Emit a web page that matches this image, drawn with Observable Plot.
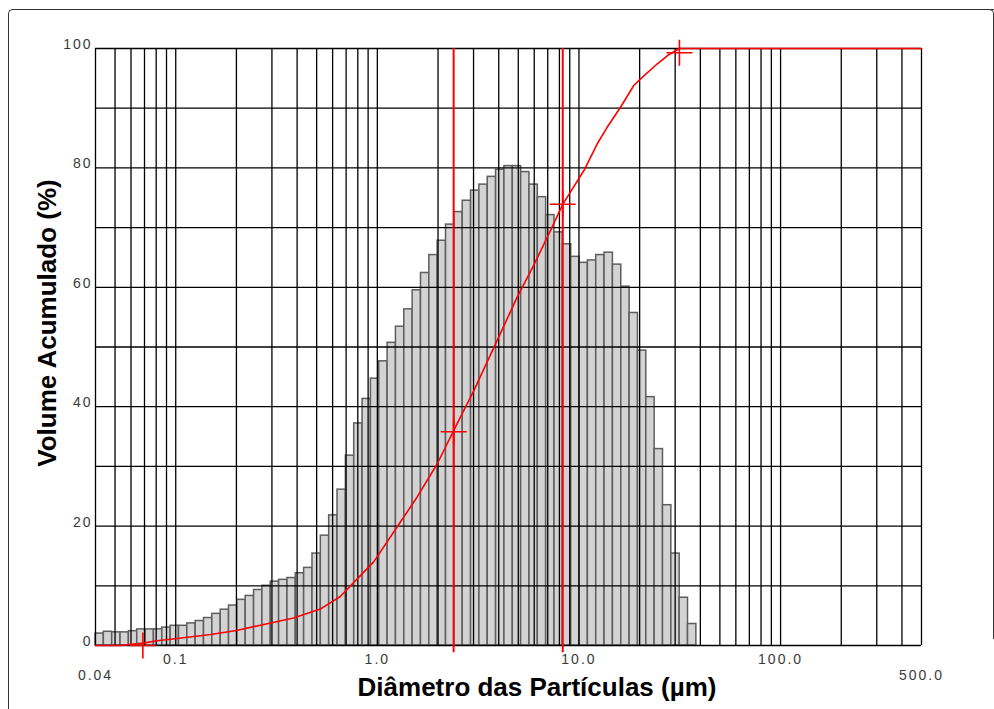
<!DOCTYPE html>
<html>
<head>
<meta charset="utf-8">
<script src="https://cdn.jsdelivr.net/npm/d3@7"></script>
<script src="https://cdn.jsdelivr.net/npm/@observablehq/plot@0.6"></script>
<style>
  html, body { margin: 0; padding: 0; background: #fff; overflow: hidden; }
  #wrap { position: relative; width: 994px; height: 709px; }
  #chart { position: absolute; left: 0; top: 0; }
  .frame-lt { position: absolute; left: 8px; top: 9px; width: 990px; height: 720px;
    border-left: 1.6px solid #333; border-top: 1.6px solid #333; border-top-left-radius: 5px; box-sizing: border-box; }
  .frame-r { position: absolute; left: 989px; top: 9px; width: 5px; height: 630px;
    border-right: 1.6px solid #333; border-top: 1.6px solid #333; border-top-right-radius: 5px; box-sizing: border-box; }
  .title { position: absolute; font-family: "Liberation Sans", Arial, sans-serif; font-weight: bold;
    font-size: 26px; line-height: 1; white-space: nowrap; color: #000; }
</style>
</head>
<body>
<div id="wrap">
  <div id="chart"></div>
  <div class="frame-lt"></div>
  <div class="frame-r"></div>
  <div class="title" id="ytitle" style="left:47px; top:323px; transform: translate(-50%,-50%) rotate(-90deg);">Volume Acumulado (%)</div>
  <div class="title" id="xtitle" style="left:537px; top:687px; transform: translate(-50%,-50%);">Diâmetro das Partículas (µm)</div>
</div>
<script>
// Histogram bin edges (µm)
const binEdges = [0.04, 0.044, 0.0484, 0.05324, 0.05856, 0.06442, 0.07086, 0.07795, 0.08574, 0.09432,
  0.10375, 0.11412, 0.12554, 0.13809, 0.1519, 0.16709, 0.1838, 0.20218, 0.2224, 0.24464,
  0.2691, 0.29601, 0.32561, 0.35817, 0.39399, 0.43339, 0.47673, 0.5244, 0.57684, 0.63452,
  0.69797, 0.76777, 0.84455, 0.929, 1.0219, 1.1241, 1.2365, 1.3602, 1.4962, 1.6458,
  1.8104, 1.9914, 2.1906, 2.4096, 2.6506, 2.9157, 3.2072, 3.528, 3.8808, 4.2688,
  4.6957, 5.1653, 5.6818, 6.25, 6.875, 7.5625, 8.3187, 9.1506, 10.066, 11.072,
  12.179, 13.397, 14.737, 16.211, 17.832, 19.615, 21.577, 23.734, 26.108, 28.719,
  31.59, 34.75, 38.22];
// Histogram bar heights
const barHeights = [2.0, 2.3, 2.2, 2.2, 2.4, 2.7, 2.7, 2.7, 3.0, 3.3,
  3.3, 3.7, 4.1, 4.6, 5.3, 6.0, 6.7, 7.65, 8.3, 9.3,
  10.0, 10.7, 11.0, 11.3, 12.1, 13.0, 15.4, 18.4, 21.8, 26.1,
  31.8, 37.2, 41.3, 44.7, 47.6, 50.7, 53.4, 56.3, 59.5, 62.4,
  65.4, 67.8, 70.5, 72.6, 74.5, 76.2, 77.2, 78.5, 79.7, 80.3,
  80.3, 79.3, 77.2, 75.1, 72.1, 69.2, 67.2, 65.1, 64.1, 64.5,
  65.4, 65.8, 63.8, 60.1, 55.7, 49.4, 41.6, 32.9, 23.5, 15.4,
  8.0, 3.6];
// Cumulative volume curve
const cumX = [0.04, 0.053, 0.0687, 0.081, 0.109, 0.149, 0.20, 0.263, 0.384, 0.521,
  0.655, 0.824, 0.959, 1.25, 1.57, 1.98, 2.39, 3.01, 3.93, 4.93,
  5.97, 7.22, 8.31, 10.6, 12.3, 13.8, 16.1, 18.7, 20.2, 24.4,
  28.0, 31.5, 500];
const cumY = [0, 0, 0.4, 0.8, 1.3, 1.85, 2.5, 3.4, 4.6, 6.1,
  8.2, 11.7, 14.0, 19.8, 24.8, 30.4, 36.0, 42.7, 51.1, 58.3,
  63.7, 69.5, 73.9, 79.6, 84.0, 86.8, 90.2, 93.8, 94.9, 97.4,
  99.0, 100, 100];
// Cross markers on the curve
const markerX = [0.0687, 2.39, 8.31, 31.5];
const markerY = [0, 35.8, 73.9, 99.3];
// Vertical reference lines
const refLineX = [2.39, 8.31];
// Grid and ticks
const gridX = [0.05, 0.06, 0.07, 0.08, 0.09, 0.1, 0.2, 0.3, 0.4, 0.5, 0.6, 0.7, 0.8, 0.9,
  1, 2, 3, 4, 5, 6, 7, 8, 9, 10, 20, 30, 40, 50, 60, 70, 80, 90, 100, 200, 300, 400];
const gridY = [10, 20, 30, 40, 50, 60, 70, 80, 90];
const yTicks = [0, 20, 40, 60, 80, 100];
const xTicks = [0.1, 1, 10, 100];
const xTickLabels = ["0.1", "1.0", "10.0", "100.0"];
const xEndTicks = [0.04, 500];
const xEndTickLabels = ["0.04", "500.0"];

const bars = barHeights.map((h, i) => ({x1: binEdges[i], x2: binEdges[i + 1], h}));
const cum = cumX.map((x, i) => ({x, y: cumY[i]}));
const markers = markerX.map((x, i) => ({x, y: markerY[i]}));
const endLabels = xEndTicks.map((x, i) => ({x, label: xEndTickLabels[i]}));

const crossSymbol = {
  draw(context, size) {
    const r = Math.sqrt(size / Math.PI);
    context.moveTo(-r, 0); context.lineTo(r, 0);
    context.moveTo(0, -r); context.lineTo(0, r);
  }
};

const gridStyle = {stroke: "#000", strokeWidth: 1.3, strokeOpacity: 1};

const chart = Plot.plot({
  width: 994,
  height: 709,
  marginLeft: 95,
  marginRight: 73,
  marginTop: 48,
  marginBottom: 64,
  style: {fontFamily: "'Liberation Sans', Arial, sans-serif", fontSize: "14px", letterSpacing: "2px", background: "transparent"},
  x: {type: "log", domain: [0.04, 500], axis: null},
  y: {domain: [0, 100], axis: null},
  marks: [
    Plot.rect(bars, {x1: "x1", x2: "x2", y1: 0, y2: "h", fill: "#d3d3d3", stroke: "#5e5e5e", strokeWidth: 1.5}),
    Plot.ruleX(gridX, {...gridStyle, y1: 0, y2: 100}),
    Plot.ruleY(gridY, {...gridStyle, x1: 0.04, x2: 500}),
    Plot.ruleX(xEndTicks, {...gridStyle, y1: 0, y2: 100}),
    Plot.ruleY([0, 100], {...gridStyle, x1: 0.04, x2: 500}),
    Plot.ruleX(refLineX, {y1: -1.2, y2: 100, stroke: "#ff0000", strokeWidth: 2}),
    Plot.line(cum, {x: "x", y: "y", stroke: "#ff0000", strokeWidth: 1.6}),
    Plot.dot(markers, {x: "x", y: "y", symbol: crossSymbol, r: 13, fill: "none", stroke: "#ff0000", strokeWidth: 1.6}),
    Plot.axisY({ticks: yTicks, tickSize: 0, tickPadding: 3, dy: -4, fill: "#3a3a3a", label: null}),
    Plot.axisX({ticks: xTicks, tickSize: 0, tickPadding: 9, fill: "#3a3a3a", label: null,
      tickFormat: d => xTickLabels[xTicks.indexOf(d)]}),
    Plot.text(endLabels, {x: "x", frameAnchor: "bottom", dy: 30, text: "label", fill: "#3a3a3a", textAnchor: "middle", lineAnchor: "middle"})
  ]
});
document.getElementById("chart").appendChild(chart);
</script>
</body>
</html>
